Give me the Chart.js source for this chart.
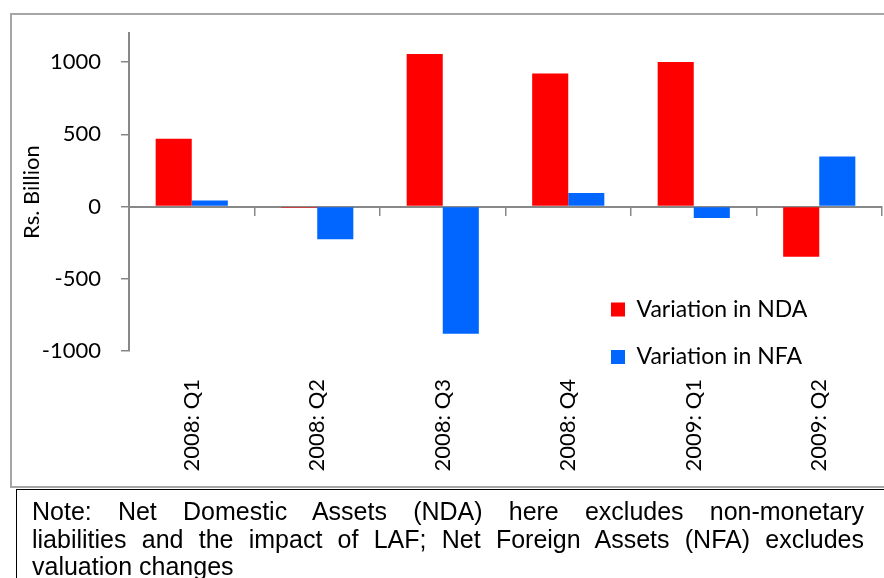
<!DOCTYPE html>
<html>
<head>
<meta charset="utf-8">
<script src="https://cdn.jsdelivr.net/npm/chart.js@4.4.1/dist/chart.umd.min.js"></script>
<style>
  html, body { margin: 0; padding: 0; background: #fff; overflow: hidden; }
  body { width: 884px; height: 578px; position: relative; }
  #frame {
    position: absolute; left: 10px; top: 13px; width: 900px; height: 471px;
    border: 2px solid #a6a6a6;
  }
  #c { position: absolute; left: 0; top: 0; }
  #note {
    position: absolute; left: 16px; top: 489px; width: 900px; height: 120px;
    border: 1px solid #000;
  }
  #note .txt {
    position: absolute; left: 15px; top: 8px; width: 832px;
    font-family: "Liberation Sans", Arial, sans-serif; font-size: 25px; line-height: 27.5px; color: #000;
  }
  #note .j { text-align: justify; text-align-last: justify; }
</style>
</head>
<body>
<div id="frame"></div>
<canvas id="c" width="884" height="578"></canvas>
<div id="note">
  <div class="txt">
    <div class="j">Note: Net Domestic Assets (NDA) here excludes non-monetary</div>
    <div class="j">liabilities and the impact of LAF; Net Foreign Assets (NFA) excludes</div>
    <div>valuation changes</div>
  </div>
</div>
<script>
// data (Rs. Billion)
const quarters = ["2008: Q1", "2008: Q2", "2008: Q3", "2008: Q4", "2009: Q1", "2009: Q2"];
const ndaValues = [470, -9, 1056, 921, 1001, -348];
const nfaValues = [41, -226, -881, 93, -79, 347];
const yTicks = [-1000, -500, 0, 500, 1000];

const font = { family: "Lato", size: 22 };
const axisGrey = "#888888";

// put the legend inside the plot, lower right
const legendMove = {
  id: "legendMove",
  afterLayout(chart) {
    const lg = chart.legend;
    if (!lg) return;
    const pad = lg.options.labels.padding;
    lg.left = 611 - pad;
    lg.top = 302 - 4 - pad;
    lg.width = 260;
    lg.height = 120;
    lg.right = lg.left + lg.width;
    lg.bottom = lg.top + lg.height;
  }
};

new Chart(document.getElementById("c"), {
  type: "bar",
  data: {
    labels: quarters,
    datasets: [
      {
        label: "Variation in NDA",
        data: ndaValues,
        backgroundColor: "#ff0000",
        borderWidth: 0,
        barPercentage: 1,
        categoryPercentage: 0.575
      },
      {
        label: "Variation in NFA",
        data: nfaValues,
        backgroundColor: "#0066ff",
        borderWidth: 0,
        barPercentage: 1,
        categoryPercentage: 0.575
      }
    ]
  },
  options: {
    responsive: false,
    animation: false,
    layout: { padding: { left: 0, right: 2, top: 29, bottom: 0 } },
    plugins: {
      tooltip: { enabled: false },
      legend: {
        position: "chartArea",
        align: "start",
        labels: {
          boxWidth: 14,
          boxHeight: 14,
          padding: 24.5,
          color: "#000",
          font: { family: "Lato", size: 23 }
        }
      }
    },
    scales: {
      x: {
        grid: { display: false, drawTicks: false },
        border: { display: false },
        ticks: {
          color: "#000",
          font: font,
          minRotation: 90,
          maxRotation: 90,
          autoSkip: false,
          padding: 28
        },
        afterFit(s) { s.height = 227; }
      },
      x2: {
        type: "category",
        labels: quarters,
        position: { y: 0 },
        offset: true,
        z: 1,
        grid: { offset: true, drawOnChartArea: false, tickLength: 8, color: axisGrey, lineWidth: 1.5 },
        border: { display: true, color: axisGrey, width: 2 },
        ticks: { display: false }
      },
      y: {
        min: -1000,
        max: 1200,
        afterBuildTicks(s) { s.ticks = yTicks.map(v => ({ value: v })); },
        ticks: { color: "#000", font: font, padding: 20, callback: v => String(v) },
        grid: { drawOnChartArea: false, tickLength: 8, color: axisGrey, lineWidth: 1.5 },
        border: { color: axisGrey, width: 2 },
        title: {
          display: true,
          text: "Rs. Billion",
          color: "#000",
          font: font,
          padding: { top: 19, bottom: 0 }
        },
        afterFit(s) { s.width = 129; }
      }
    }
  },
  plugins: [legendMove]
});
</script>
</body>
</html>
